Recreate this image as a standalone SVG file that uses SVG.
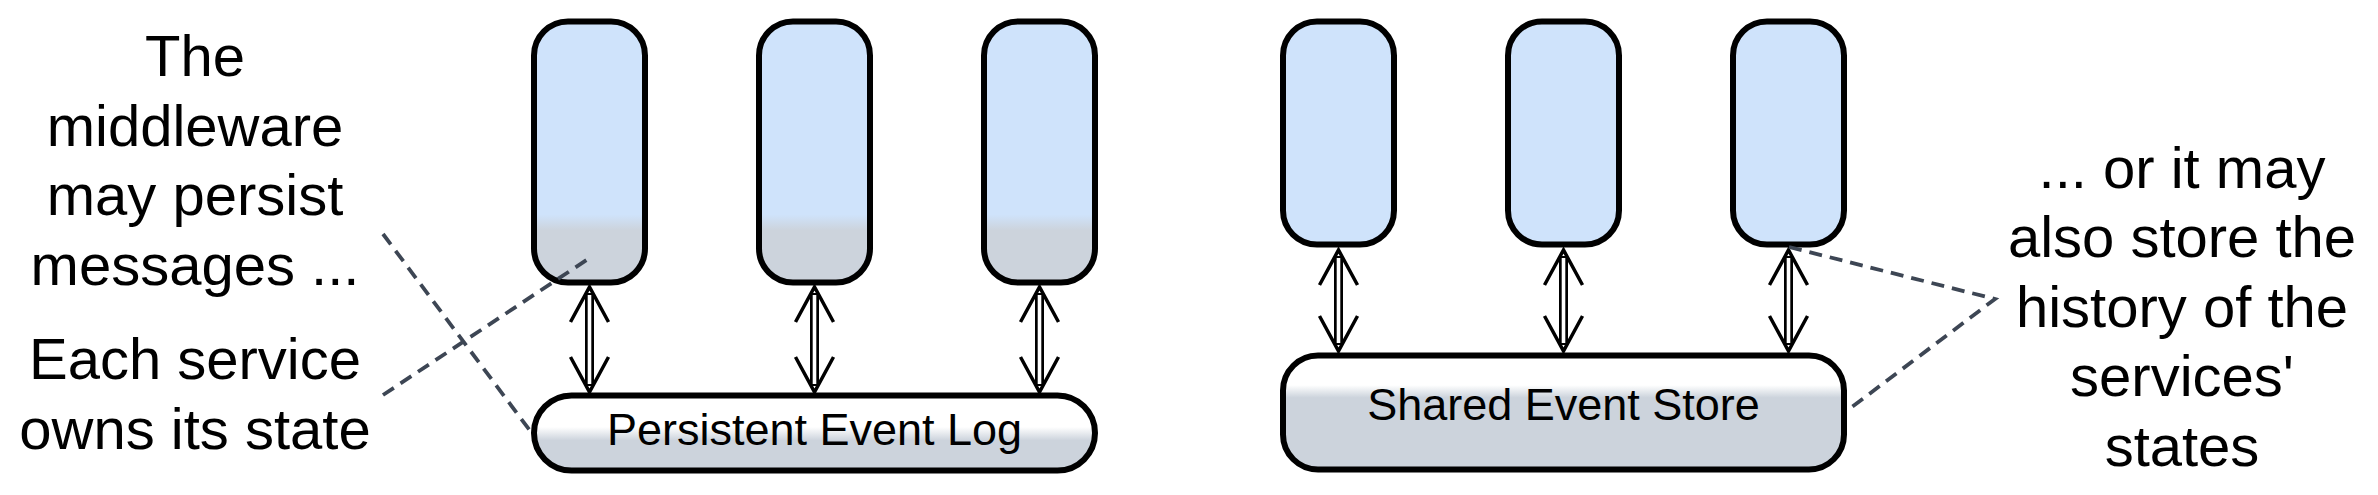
<svg xmlns="http://www.w3.org/2000/svg" width="2378" height="495" viewBox="0 0 2378 495">
<style>
  .svc { stroke:#000; stroke-width:6; }
  .bar { stroke:#000; stroke-width:6; }
  .lbl { font-family:"Liberation Sans", Arial, sans-serif; font-size:45px; fill:#000; text-anchor:middle; }
  .note { font-family:"Liberation Sans", Arial, sans-serif; font-size:58px; fill:#000; text-anchor:middle; }
  .shaft { stroke:#000; stroke-width:9; fill:none; }
  .shaftin { stroke:#fff; stroke-width:3.6; fill:none; }
  .head { stroke:#000; stroke-width:3.5; fill:none; stroke-linecap:butt; stroke-linejoin:miter; }
  .dash { stroke:#3d4654; stroke-width:3.8; stroke-dasharray:13 8; fill:none; }
</style>
<defs>
  <linearGradient id="gSvc" x1="0" y1="0" x2="0" y2="1">
    <stop offset="0" stop-color="#cfe3fb"/>
    <stop offset="0.74" stop-color="#cfe3fb"/>
    <stop offset="0.80" stop-color="#ccd3dc"/>
    <stop offset="1" stop-color="#ccd3dc"/>
  </linearGradient>
  <linearGradient id="gLog" x1="0" y1="0" x2="0" y2="1">
    <stop offset="0" stop-color="#ffffff"/>
    <stop offset="0.42" stop-color="#ffffff"/>
    <stop offset="0.60" stop-color="#ccd3dc"/>
    <stop offset="1" stop-color="#ccd3dc"/>
  </linearGradient>
  <linearGradient id="gStore" x1="0" y1="0" x2="0" y2="1">
    <stop offset="0" stop-color="#ffffff"/>
    <stop offset="0.26" stop-color="#ffffff"/>
    <stop offset="0.37" stop-color="#ccd3dc"/>
    <stop offset="1" stop-color="#ccd3dc"/>
  </linearGradient>
</defs>
<rect width="2378" height="495" fill="#fff"/>

<g id="note-left-top">
  <text class="note" x="195" y="76">The</text>
  <text class="note" x="195" y="145.6">middleware</text>
  <text class="note" x="195" y="215.2">may persist</text>
  <text class="note" x="195" y="284.8">messages ...</text>
</g>
<g id="note-left-bottom">
  <text class="note" x="195" y="379">Each service</text>
  <text class="note" x="195" y="448.6">owns its state</text>
</g>
<g id="note-right">
  <text class="note" x="2182" y="188">... or it may</text>
  <text class="note" x="2182" y="257.4">also store the</text>
  <text class="note" x="2182" y="326.8">history of the</text>
  <text class="note" x="2182" y="396.2">services'</text>
  <text class="note" x="2182" y="465.6">states</text>
</g>

<g id="svc-l1"><rect class="svc" x="534" y="21.5" width="111" height="261" rx="34" fill="url(#gSvc)"/></g>
<g id="svc-l2"><rect class="svc" x="759" y="21.5" width="111" height="261" rx="34" fill="url(#gSvc)"/></g>
<g id="svc-l3"><rect class="svc" x="984" y="21.5" width="111" height="261" rx="34" fill="url(#gSvc)"/></g>
<g id="event-log">
  <rect class="bar" x="534" y="395.5" width="561" height="75" rx="37.5" fill="url(#gLog)"/>
  <text class="lbl" x="814.5" y="445">Persistent Event Log</text>
</g>

<g id="svc-r1"><rect class="svc" x="1283" y="21.5" width="111" height="223" rx="34" fill="#cfe3fb"/></g>
<g id="svc-r2"><rect class="svc" x="1508" y="21.5" width="111" height="223" rx="34" fill="#cfe3fb"/></g>
<g id="svc-r3"><rect class="svc" x="1733" y="21.5" width="111" height="223" rx="34" fill="#cfe3fb"/></g>
<g id="event-store">
  <rect class="bar" x="1283" y="355.5" width="561" height="114" rx="35" fill="url(#gStore)"/>
  <text class="lbl" x="1563.5" y="420">Shared Event Store</text>
</g>

<g id="connectors">
  <g>
    <line class="shaft" x1="589.5" y1="293" x2="589.5" y2="386"/>
    <line class="shaftin" x1="589.5" y1="295" x2="589.5" y2="384"/>
    <polyline class="head" points="570.5,322 589.5,287 608.5,322"/>
    <polyline class="head" points="570.5,357 589.5,392 608.5,357"/>
  </g>
  <g>
    <line class="shaft" x1="814.5" y1="293" x2="814.5" y2="386"/>
    <line class="shaftin" x1="814.5" y1="295" x2="814.5" y2="384"/>
    <polyline class="head" points="795.5,322 814.5,287 833.5,322"/>
    <polyline class="head" points="795.5,357 814.5,392 833.5,357"/>
  </g>
  <g>
    <line class="shaft" x1="1039.5" y1="293" x2="1039.5" y2="386"/>
    <line class="shaftin" x1="1039.5" y1="295" x2="1039.5" y2="384"/>
    <polyline class="head" points="1020.5,322 1039.5,287 1058.5,322"/>
    <polyline class="head" points="1020.5,357 1039.5,392 1058.5,357"/>
  </g>
  <g>
    <line class="shaft" x1="1338.5" y1="256" x2="1338.5" y2="345"/>
    <line class="shaftin" x1="1338.5" y1="258" x2="1338.5" y2="343"/>
    <polyline class="head" points="1319.5,285 1338.5,250 1357.5,285"/>
    <polyline class="head" points="1319.5,316 1338.5,351 1357.5,316"/>
  </g>
  <g>
    <line class="shaft" x1="1563.5" y1="256" x2="1563.5" y2="345"/>
    <line class="shaftin" x1="1563.5" y1="258" x2="1563.5" y2="343"/>
    <polyline class="head" points="1544.5,285 1563.5,250 1582.5,285"/>
    <polyline class="head" points="1544.5,316 1563.5,351 1582.5,316"/>
  </g>
  <g>
    <line class="shaft" x1="1788.5" y1="256" x2="1788.5" y2="345"/>
    <line class="shaftin" x1="1788.5" y1="258" x2="1788.5" y2="343"/>
    <polyline class="head" points="1769.5,285 1788.5,250 1807.5,285"/>
    <polyline class="head" points="1769.5,316 1788.5,351 1807.5,316"/>
  </g>
  <line class="dash" x1="383" y1="234" x2="531" y2="432"/>
  <line class="dash" x1="383" y1="395" x2="588" y2="259"/>
  <polyline class="dash" points="1789,247 1995,299 1848,410"/>
</g>
</svg>
